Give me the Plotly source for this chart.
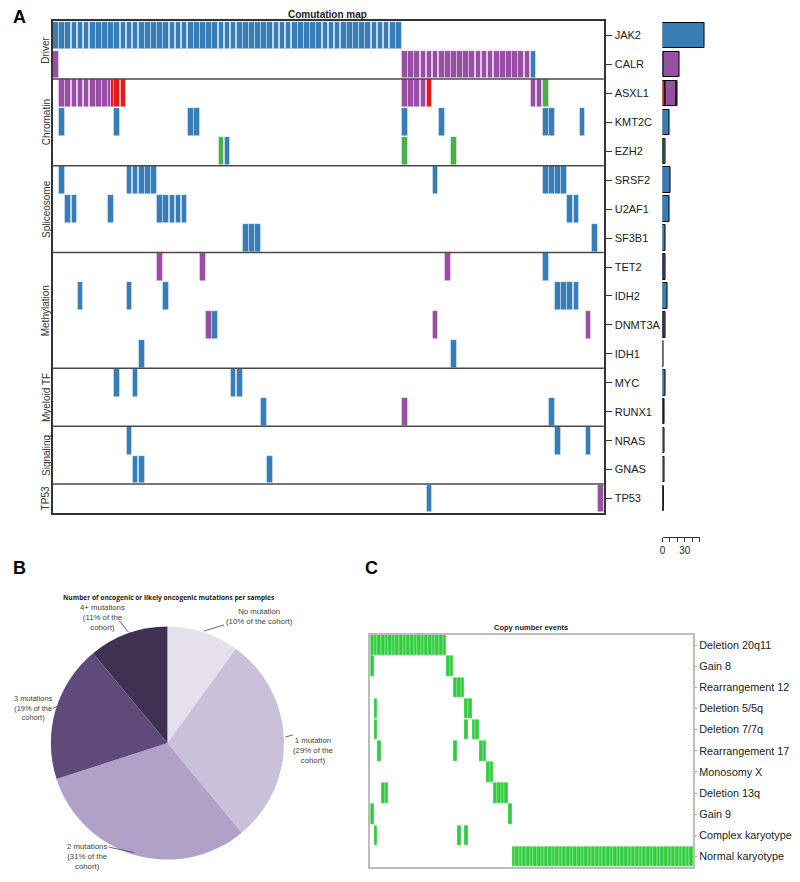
import plotly.graph_objects as go

# The page adds an 8px body margin on every side, so the figure is sized to fit inside it
PAGE_MARGIN = 8
W, H = 800 - PAGE_MARGIN, 882 - 2 * PAGE_MARGIN


def fx(px):
    return (px - PAGE_MARGIN) / W


def fy(py):
    return 1 - (py - PAGE_MARGIN) / H


FONT = "Liberation Sans, Arial, sans-serif"

# ---------------- Panel A data ----------------
N_SAMPLES = 90
genes = ["JAK2", "CALR", "ASXL1", "KMT2C", "EZH2", "SRSF2", "U2AF1", "SF3B1",
         "TET2", "IDH2", "DNMT3A", "IDH1", "MYC", "RUNX1", "NRAS", "GNAS", "TP53"]
group_names = ["Driver", "Chromatin", "Spliceosome", "Methylation", "Myeloid TF", "Signaling", "TP53"]
group_sizes = [2, 3, 3, 4, 2, 2, 1]

# sample (column) indices carrying each alteration type
missense = {
    "JAK2": [0, 1, 2, 3, 4, 5, 6, 7, 8, 9, 10, 11, 12, 13, 14, 15, 16, 17, 18, 19,
             20, 21, 22, 23, 24, 25, 26, 27, 28, 29, 30, 31, 32, 33, 34, 35, 36, 37, 38, 39,
             40, 41, 42, 43, 44, 45, 46, 47, 48, 49, 50, 51, 52, 53, 54, 55, 56],
    "CALR": [78],
    "KMT2C": [1, 10, 22, 23, 57, 63, 80, 81, 86],
    "EZH2": [28],
    "SRSF2": [1, 12, 13, 14, 15, 16, 62, 80, 81, 82, 83],
    "U2AF1": [2, 3, 9, 17, 18, 19, 20, 21, 84, 85],
    "SF3B1": [31, 32, 33, 88],
    "TET2": [80],
    "IDH2": [4, 12, 18, 82, 83, 84, 85],
    "DNMT3A": [26],
    "IDH1": [14, 65],
    "MYC": [10, 13, 29, 30],
    "RUNX1": [34, 81],
    "NRAS": [12, 82, 87],
    "GNAS": [13, 14, 35],
    "TP53": [61],
}
frameshift = {
    "CALR": [0, 57, 58, 59, 60, 61, 62, 63, 64, 65, 66, 67, 68, 69, 70, 71, 72, 73, 74, 75, 76, 77],
    "ASXL1": [1, 2, 3, 4, 5, 6, 7, 8, 9, 57, 58, 59, 60, 78, 79],
    "TET2": [17, 24, 64],
    "DNMT3A": [25, 62, 87],
    "RUNX1": [57],
    "TP53": [89],
}
nonsense = {
    "ASXL1": [9, 10, 11, 61],
}
splice = {
    "ASXL1": [80],
    "EZH2": [27, 57, 65],
}

BLUE, PURPLE, RED, GREEN = "#377EB8", "#984EA3", "#E41A1C", "#4DAF4A"
mut_types = [
    ("Nonsense", nonsense, RED),
    ("Missense", missense, BLUE),
    ("Frameshift", frameshift, PURPLE),
    ("Splice", splice, GREEN),
]
split_order = ["Frameshift", "Nonsense", "Missense", "Splice"]

# ---------------- Panel B data ----------------
pie_labels = ["No mutation", "1 mutation", "2 mutations", "3 mutations", "4+ mutations"]
pie_values = [10, 29, 31, 19, 11]
pie_colors = ["#e6e0ec", "#cbc0da", "#b1a0c7", "#5f4a7b", "#3f3152"]

# ---------------- Panel C data ----------------
N_CN = 89
cn_events = ["Deletion 20q11", "Gain 8", "Rearrangement 12", "Deletion 5/5q", "Deletion 7/7q",
             "Rearrangement 17", "Monosomy X", "Deletion 13q", "Gain 9", "Complex karyotype",
             "Normal karyotype"]
cn_samples = [
    [0, 1, 2, 3, 4, 5, 6, 7, 8, 9, 10, 11, 12, 13, 14, 15, 16, 17, 18, 19, 20],
    [0, 21, 22],
    [23, 24, 25],
    [1, 26, 27],
    [1, 26, 28, 29],
    [2, 23, 30, 31],
    [32, 33],
    [3, 4, 34, 35, 36, 37],
    [0, 38],
    [1, 24, 26],
    [39, 40, 41, 42, 43, 44, 45, 46, 47, 48, 49, 50, 51, 52, 53, 54, 55, 56, 57, 58,
     59, 60, 61, 62, 63, 64, 65, 66, 67, 68, 69, 70, 71, 72, 73, 74, 75, 76, 77, 78,
     79, 80, 81, 82, 83, 84, 85, 86, 87, 88],
]

fig = go.Figure()

# ---------- comutation map cells ----------
cell_types = {}
for tname, d, _ in mut_types:
    for g, cols in d.items():
        for c in cols:
            cell_types.setdefault((g, c), []).append(tname)

FILL = 0.92
for tname, d, color in mut_types:
    xs, bases, offs, wids, hs = [], [], [], [], []
    for g, cols in d.items():
        r = genes.index(g)
        for c in cols:
            lst = sorted(cell_types[(g, c)], key=split_order.index)
            k, n = lst.index(tname), len(lst)
            w = FILL / n
            xs.append(c)
            offs.append(-FILL / 2 + k * w)
            wids.append(w)
            bases.append(r - 0.48)
            hs.append(0.96)
    fig.add_trace(go.Bar(
        x=xs, y=hs, base=bases, offset=offs, width=wids,
        marker=dict(color=color, line=dict(color="rgba(255,255,255,0.55)", width=0.7)),
        xaxis="x", yaxis="y", showlegend=False, hoverinfo="skip"))

# ---------- side bar chart (mutation counts) ----------
cum = [0] * len(genes)
for tname, d, color in mut_types:
    vals = [len(d.get(g, [])) for g in genes]
    ys = [i for i, v in enumerate(vals) if v > 0]
    fig.add_trace(go.Bar(
        y=ys, x=[vals[i] for i in ys], base=[cum[i] for i in ys], orientation="h",
        width=0.88, marker=dict(color=color, line=dict(color="black", width=1)),
        xaxis="x2", yaxis="y2", showlegend=False, hoverinfo="skip"))
    cum = [a + b for a, b in zip(cum, vals)]

# invisible trace for count axis
fig.add_trace(go.Scatter(x=[0, 50], y=[0, 0], mode="markers", marker=dict(opacity=0),
                         xaxis="x3", yaxis="y3", showlegend=False, hoverinfo="skip"))

# ---------- pie ----------
fig.add_trace(go.Pie(
    labels=pie_labels, values=pie_values, sort=False, direction="clockwise", rotation=0,
    marker=dict(colors=pie_colors, line=dict(width=0)), textinfo="none",
    domain=dict(x=[fx(48), fx(282)], y=[fy(860), fy(626)]),
    showlegend=False, hoverinfo="skip"))

# ---------- copy number grid ----------
cx, cb, ch = [], [], []
for r, cols in enumerate(cn_samples):
    for c in cols:
        cx.append(c)
        cb.append(r - 0.485)
        ch.append(0.97)
fig.add_trace(go.Bar(
    x=cx, y=ch, base=cb, width=1.0,
    marker=dict(color="#2fcc3c", line=dict(color="rgba(255,255,255,0.45)", width=0.7)),
    xaxis="x4", yaxis="y4", showlegend=False, hoverinfo="skip"))

# ---------- layout ----------
map_top, map_bot = 21, 513
shapes = []
b = 0
for s in group_sizes[:-1]:
    b += s
    shapes.append(dict(type="line", xref="paper", yref="y", x0=fx(50), x1=fx(603),
                       y0=b - 0.5, y1=b - 0.5, line=dict(color="#4a4a4a", width=1.5)))

annotations = []
b = 0
for name, s in zip(group_names, group_sizes):
    annotations.append(dict(text=name, xref="paper", yref="y", x=fx(43), y=b + (s - 1) / 2,
                            textangle=-90, showarrow=False, xanchor="center", yanchor="middle",
                            font=dict(family=FONT, size=10, color="#333")))
    b += s

annotations += [
    dict(text="<b>A</b>", xref="paper", yref="paper", x=fx(8), y=fy(17), xanchor="left",
         yanchor="middle", showarrow=False, font=dict(family=FONT, size=18, color="black")),
    dict(text="<b>B</b>", xref="paper", yref="paper", x=fx(8), y=fy(568), xanchor="left",
         yanchor="middle", showarrow=False, font=dict(family=FONT, size=18, color="black")),
    dict(text="<b>C</b>", xref="paper", yref="paper", x=fx(361), y=fy(568), xanchor="left",
         yanchor="middle", showarrow=False, font=dict(family=FONT, size=18, color="black")),
    dict(text="<b>Comutation map</b>", xref="paper", yref="paper", x=fx(326), y=fy(14),
         xanchor="center", yanchor="middle", showarrow=False,
         font=dict(family=FONT, size=10, color="#222")),
    dict(text="<b>Number of oncogenic or likely oncogenic mutations per samples</b>",
         xref="paper", yref="paper", x=fx(167), y=fy(597), xanchor="center", yanchor="middle",
         showarrow=False, font=dict(family="Open Sans", size=6.6, color="#222")),
    dict(text="<b>Copy number events</b>", xref="paper", yref="paper", x=fx(530), y=fy(627),
         xanchor="center", yanchor="middle", showarrow=False,
         font=dict(family=FONT, size=7.5, color="#222")),
]

pie_text = [
    ("No mutation<br>(%d%% of the cohort)" % pie_values[0], 257, 616, "center", 7.8,
     (201.7, 631, 221.7, 625)),
    ("1 mutation<br>(%d%% of the<br>cohort)" % pie_values[1], 311, 750, "center", 7.8,
     (283.3, 737, 291, 735)),
    ("2 mutations<br>(%d%% of the<br>cohort)" % pie_values[2], 84, 856, "center", 7.8,
     (131.7, 852.7, 106, 847)),
    ("3 mutations<br>(%d%% of the<br>cohort)" % pie_values[3], 9, 708, "left", 7.4,
     (54, 706.5, 50, 708.5)),
    ("4+ mutations<br>(%d%% of the<br>cohort)" % pie_values[4], 100, 617, "center", 7.8,
     (126, 632.3, 116.7, 620.7)),
]
for txt, tx, ty, anc, fs, (x0, y0, x1, y1) in pie_text:
    annotations.append(dict(text=txt, xref="paper", yref="paper", x=fx(tx), y=fy(ty),
                            xanchor=anc, yanchor="middle", showarrow=False, align="center",
                            font=dict(family=FONT, size=fs, color="#404040")))
    shapes.append(dict(type="line", xref="paper", yref="paper", x0=fx(x0), y0=fy(y0),
                       x1=fx(x1), y1=fy(y1), line=dict(color="#404040", width=0.8)))

fig.update_layout(
    width=W, height=H, margin=dict(l=0, r=0, t=0, b=0),
    paper_bgcolor="white", plot_bgcolor="white", barmode="overlay", bargap=0,
    shapes=shapes, annotations=annotations,
    xaxis=dict(domain=[fx(50), fx(603)], range=[-0.5, N_SAMPLES - 0.5], showticklabels=False,
               ticks="", showgrid=False, zeroline=False, showline=True, mirror=True,
               linecolor="#333", linewidth=1.5, anchor="y"),
    yaxis=dict(domain=[fy(map_bot), fy(map_top)], range=[len(genes) - 0.5, -0.5],
               tickvals=list(range(len(genes))), ticktext=genes, side="right", ticks="outside",
               ticklen=7, tickcolor="#333", tickfont=dict(family=FONT, size=11, color="#1a1a1a"),
               showgrid=False, zeroline=False, showline=True, mirror=True, linecolor="#333",
               linewidth=1.5, anchor="x"),
    xaxis2=dict(domain=[fx(662), fx(722)], range=[0, 80.3], visible=False, anchor="y2"),
    yaxis2=dict(domain=[fy(map_bot), fy(map_top)], range=[len(genes) - 0.5, -0.5],
                visible=False, anchor="x2"),
    xaxis3=dict(domain=[fx(662), fx(662 + 37.35)], range=[0, 50], anchor="y3",
                tickvals=[0, 10, 20, 30, 40, 50], ticktext=["0", "", "", "30", "", ""],
                ticks="outside", ticklen=4, tickcolor="#333", showline=True, linecolor="#333",
                linewidth=1, showgrid=False, zeroline=False,
                tickfont=dict(family=FONT, size=10, color="#222")),
    yaxis3=dict(domain=[fy(537), fy(530)], visible=False, anchor="x3"),
    xaxis4=dict(domain=[fx(368.7), fx(693)], range=[-0.5, N_CN - 0.5], showticklabels=False,
                ticks="", showgrid=False, zeroline=False, showline=True, mirror=True,
                linecolor="#bdbdbd", linewidth=1.5, anchor="y4"),
    yaxis4=dict(domain=[fy(867), fy(634.5)], range=[len(cn_events) - 0.5, -0.5],
                tickvals=list(range(len(cn_events))), ticktext=cn_events, side="right",
                ticks="outside", ticklen=2, tickcolor="#aaa",
                tickfont=dict(family=FONT, size=10.8, color="#222"), showgrid=False,
                zeroline=False, showline=True, mirror=True, linecolor="#bdbdbd",
                linewidth=1.5, anchor="x4"),
)

fig.write_html("out.html")
